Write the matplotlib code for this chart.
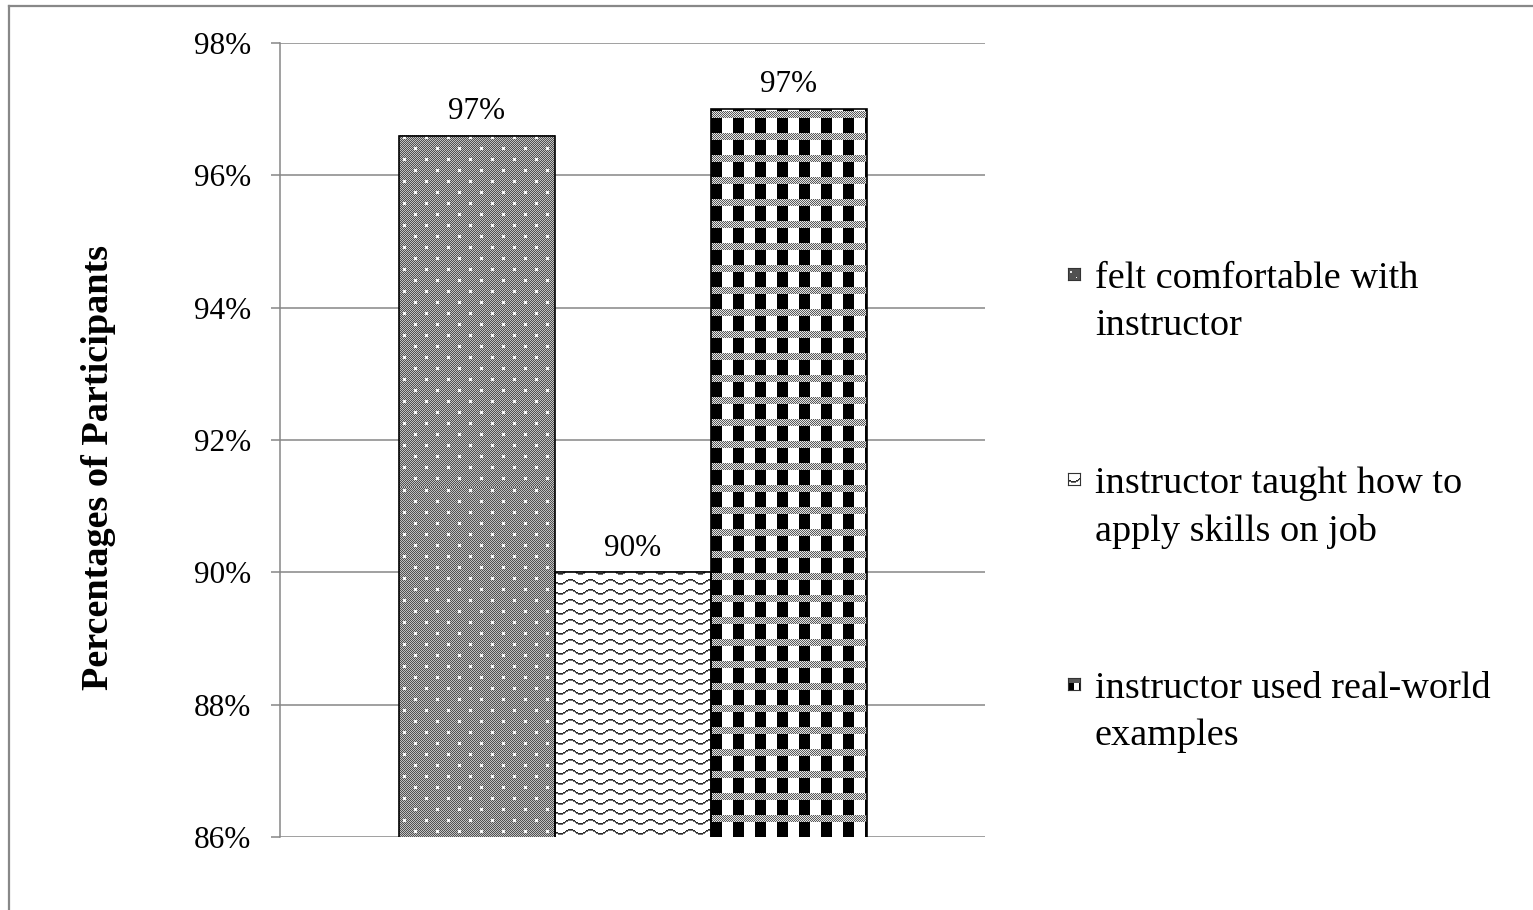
import numpy as np
import matplotlib.pyplot as plt
from matplotlib.lines import Line2D

plt.rcParams['font.family'] = ['Liberation Serif', 'DejaVu Serif']

labels = ["felt comfortable with\ninstructor",
          "instructor taught how to\napply skills on job",
          "instructor used real-world\nexamples"]
values = [96.6, 90.0, 97.0]
yticks = [86, 88, 90, 92, 94, 96, 98]

W, H = 1533, 910


# pixel tiles for the three fill patterns (0 = black, 1 = white)
def tile_dots():
    yy, xx = np.mgrid[0:22, 0:22]
    t = np.where((xx + yy) % 2 == 0, 0.32, 0.75).astype(float)
    for cy, cx in [(5, 5), (16, 16)]:
        t[cy, cx - 1:cx + 2] = 1.0
        t[cy - 1:cy + 2, cx] = 1.0
        t[cy - 1, cx - 1] = t[cy + 1, cx + 1] = 0.9
        t[cy - 1, cx + 1] = t[cy + 1, cx - 1] = 0.9
    return t


def tile_waves():
    t = np.ones((10, 20))
    for x in range(20):
        y = int(round(4 + 2 * np.sin(2 * np.pi * x / 20)))
        t[y, x] = 0.15
        t[y + 1, x] = 0.45
    return t


def tile_checks():
    yy, xx = np.mgrid[0:22, 0:22]
    t = np.ones((22, 22))
    t[7:, :11] = 0.0
    band = np.where((xx + yy) % 2 == 0, 0.35, 0.9)
    t[:7, :] = band[:7, :]
    return t


def textured(img_tile, wp, hp):
    th, tw = img_tile.shape
    return np.tile(img_tile, (hp // th + 2, wp // tw + 2))[-hp:, :wp]


def fill_texture(ax, bar, tile, ymin):
    x, w = bar.get_x(), bar.get_width()
    y0, y1 = max(bar.get_y(), ymin), bar.get_y() + bar.get_height()
    (px0, py0), (px1, py1) = ax.transData.transform([(x, y0), (x + w, y1)])
    wp, hp = int(round(px1 - px0)), int(round(py1 - py0))
    ax.imshow(textured(tile, wp, hp), extent=(x, x + w, y0, y1), origin='upper',
              cmap='gray', vmin=0, vmax=1, interpolation='nearest', aspect='auto',
              zorder=2)


fig = plt.figure(figsize=(W / 100, H / 100), dpi=100)
ax = fig.add_axes([280 / W, 1 - 837 / H, 705 / W, 794 / H])

x = np.array([-1.0, 0.0, 1.0])
xlim = (-705 / 156 / 2, 705 / 156 / 2)
ylim = (86, 98)
ax.set_xlim(*xlim)
ax.set_ylim(*ylim)

tiles = [tile_dots(), tile_waves(), tile_checks()]
bars = ax.bar(x, values, width=1.0, facecolor='none', edgecolor='black',
              linewidth=1.2, zorder=3)
for bar, tile in zip(bars, tiles):
    fill_texture(ax, bar, tile, ylim[0])

for xi, v in zip(x, values):
    ax.annotate(f"{v:.0f}%", (xi, v), xytext=(0, 7), textcoords='offset points',
                ha='center', va='bottom', fontsize=22.5)

ax.set_xlim(*xlim)
ax.set_ylim(*ylim)
ax.set_yticks(yticks)
ax.set_yticklabels([f"{t}%" for t in yticks], fontsize=22.5)
ax.set_xticks([])
ax.yaxis.grid(True, color='#868686', linewidth=1.1)
ax.set_axisbelow(True)
for s in ['top', 'right', 'bottom']:
    ax.spines[s].set_visible(False)
ax.spines['left'].set_color('#868686')
ax.spines['left'].set_linewidth(1.1)
ax.tick_params(axis='y', length=6.5, width=1.1, color='#868686', pad=14)

fig.text(99 / W, 1 - 468 / H, "Percentages of Participants", rotation=90,
         ha='center', va='center', fontsize=27.5, fontweight='bold')

# legend: small textured key square next to the first line of each label
for i, (lab, tile) in enumerate(zip(labels, tiles)):
    ytop = 262 + i * 205
    fig.text(1095 / W, 1 - ytop / H, lab, ha='left', va='top', fontsize=27.5,
             linespacing=1.45)
    kx, ky, ks = 1068, 268 + i * 205, 12
    kax = fig.add_axes([kx / W, 1 - (ky + ks) / H, ks / W, ks / H])
    kax.imshow(textured(tile[::2, ::2] if tile.shape[0] > 10 else tile, ks, ks),
               cmap='gray', vmin=0, vmax=1, interpolation='nearest', aspect='auto')
    kax.set_xticks([])
    kax.set_yticks([])
    for sp in kax.spines.values():
        sp.set_color('#333333')
        sp.set_linewidth(0.8)

# outer frame line along the top and left edge
fig.add_artist(Line2D([9 / W, 9 / W], [0, 1 - 6 / H], transform=fig.transFigure,
                      color='#888888', linewidth=1.6))
fig.add_artist(Line2D([9 / W, 1], [1 - 6 / H, 1 - 6 / H], transform=fig.transFigure,
                      color='#888888', linewidth=1.6))

fig.savefig('out.png', dpi=100)
